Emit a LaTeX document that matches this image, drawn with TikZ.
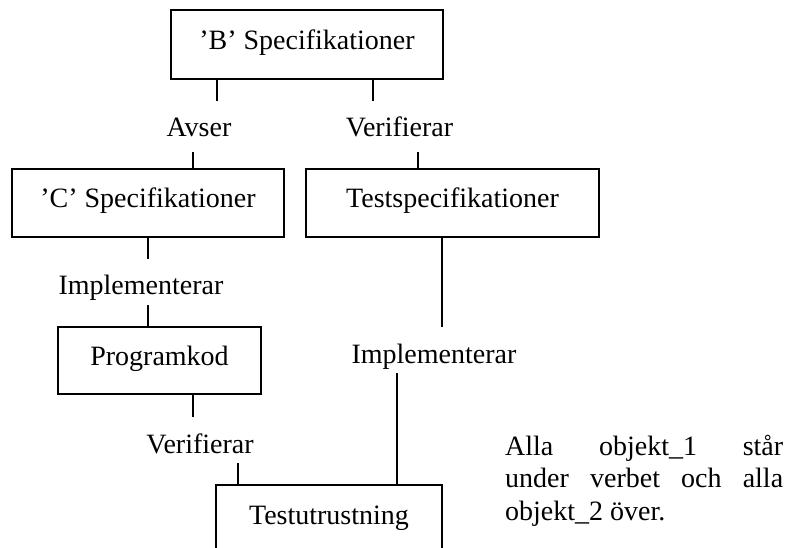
\documentclass[tikz,border=0pt]{standalone}
\usepackage{fontspec}
\setmainfont{Liberation Serif}
\begin{document}
\begin{tikzpicture}[x=1pt,y=-1pt,
  every node/.style={font=\fontsize{28}{32.5}\selectfont},
  blockbox/.style={draw, line width=1.4pt, inner sep=0pt,
    text height=12pt, text depth=2pt},
  verb/.style={inner sep=0pt, anchor=base, text height=36pt, text depth=10pt},
  link/.style={line width=1.1pt}]
\useasboundingbox (0,0) rectangle (788,548);

% blocks
\node[blockbox, minimum width=272pt, minimum height=69pt] (B) at (307,44.5) {’B’ Specifikationer};
\node[blockbox, minimum width=272pt, minimum height=68pt] (C) at (148,203) {’C’ Specifikationer};
\node[blockbox, minimum width=293pt, minimum height=68pt] (T) at (452.5,203) {Testspecifikationer};
\node[blockbox, minimum width=203pt, minimum height=67pt] (P) at (159.5,360.5) {Programkod};
\node[blockbox, minimum width=226pt, minimum height=68pt] (U) at (329,519) {Testutrustning};

% verbs
\node[verb, text depth=15pt] (avser) at (199,137) {Avser};
\node[verb, text depth=15pt] (verA) at (399.5,137) {Verifierar};
\node[verb] (implA) at (141,295) {Implementerar};
\node[verb] (implB) at (434,363) {Implementerar};
\node[verb] (verB) at (200,453) {Verifierar};

% note
\node[anchor=base west, inner sep=0pt, text width=278pt, align=justify] (note) at (505,455)
  {Alla objekt\_1 står\linebreak under verbet och alla\linebreak objekt\_2 över.};

% connectors
\draw[link] ([xshift=-90pt]B.south) -- ([xshift=18pt]avser.north);
\draw[link] ([xshift=-6pt]avser.south) -- ([xshift=45pt]C.north);
\draw[link] ([xshift=66pt]B.south) -- ([xshift=-26.5pt]verA.north);
\draw[link] ([xshift=18.5pt]verA.south) -- ([xshift=-34.5pt]T.north);
\draw[link] (C.south) -- ([xshift=7pt]implA.north);
\draw[link] ([xshift=7pt]implA.south) -- ([xshift=-11.5pt]P.north);
\draw[link] ([xshift=-10.5pt]T.south) -- ([xshift=8pt]implB.north);
\draw[link] ([xshift=-37pt]implB.south) -- ([xshift=68pt]U.north);
\draw[link] ([xshift=33.5pt]P.south) -- ([xshift=-7pt]verB.north);
\draw[link] ([xshift=38pt]verB.south) -- ([xshift=-91pt]U.north);
\end{tikzpicture}
\end{document}
